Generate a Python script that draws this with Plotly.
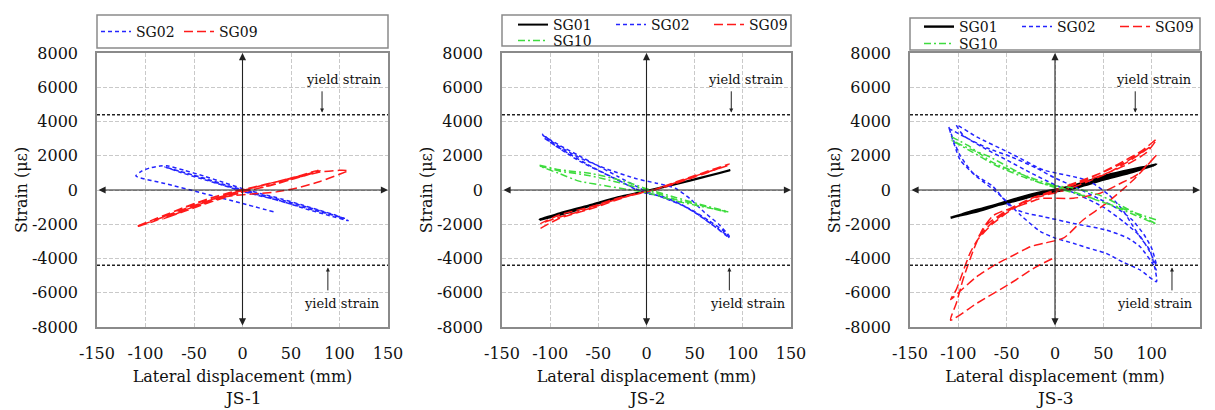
import plotly.graph_objects as go

# ---------------------------------------------------------------- axes / ticks
X_TICKS = [-150, -100, -50, 0, 50, 100, 150]
X_TICK_TEXT = ["-150", "-100", "-50", "0", "50", "100", "150"]
Y_TICKS = [-8000, -6000, -4000, -2000, 0, 2000, 4000, 6000, 8000]
Y_TICK_TEXT = ["-8000", "-6000", "-4000", "-2000", "0", "2000", "4000", "6000", "8000"]
X_RANGE = [-150, 150]
Y_RANGE = [-8000, 8000]
YIELD_STRAIN = 4400
PANEL_NAMES = ["JS-1", "JS-2", "JS-3"]

# ---------------------------------------------------------------- JS-1 gauges
JS1_SG02_X = [32, 0, -40, -80, -110, -104, -95, -85, -78, -60, -40, -20, 0, 20, 40, 60,
              80, 95, 109, 90, 65, 40, 15, 0, -20, -45, -65, -80, -65, -40, -15, 0, 20,
              45, 70, 95, 105, 85, 55, 25, 0, -25, -50, -75]
JS1_SG02_Y = [-1270, -790, -200, 380, 820, 1100, 1300, 1400, 1420, 1150, 820, 450, 80,
              -230, -520, -850, -1200, -1450, -1790, -1500, -1100, -650, -300, -80, 280,
              700, 1050, 1350, 1100, 700, 250, 20, -280, -650, -1050, -1480, -1650,
              -1350, -900, -420, -40, 380, 850, 1250]

JS1_SG09_X = [-108, -95, -75, -55, -30, -10, 10, 35, 60, 80, 100, 109, 100, 80, 55, 35,
              12, -10, -40, -70, -90, -108, -85, -60, -35, -10, 10, 40, 65, 80, 65, 40,
              15, -10, -40, -70, -82, -60, -30, 0, 30, 60, 78, 60, 30, 0, -30, -60, -80]
JS1_SG09_Y = [-2100, -1800, -1350, -900, -420, -100, 150, 480, 780, 1050, 1150, 1130,
              920, 500, 100, -110, -220, -330, -650, -1250, -1800, -2120, -1650, -1100,
              -620, -180, 120, 560, 900, 1120, 850, 450, 80, -250, -800, -1400, -1700,
              -1200, -520, -30, 400, 850, 1160, 780, 280, -120, -650, -1250, -1650]

# ---------------------------------------------------------------- JS-2 gauges
JS2_SG01_X = [-111, -80, -56, -30, -4, 20, 48, 70, 87, 60, 30, 0, -30, -60, -90, -111,
              -80, -45, -10, 25, 55, 87]
JS2_SG01_Y = [-1750, -1300, -880, -450, -100, 200, 590, 900, 1170, 760, 330, -60, -420,
              -900, -1350, -1720, -1250, -700, -180, 280, 700, 1150]

JS2_SG02_X = [-108, -90, -70, -50, -30, -10, 0, 20, 45, 65, 80, 86, 70, 50, 30, 10, -10,
              -30, -55, -80, -100, -108, -95, -70, -40, -10, 10, 30, 45, 60, 75, 86, 75,
              55, 35, 15, 0, -20, -45, -70, -95, -108]
JS2_SG02_Y = [3200, 2600, 2000, 1400, 800, 200, -100, -500, -1100, -1800, -2400, -2800,
              -2100, -1300, -700, -300, 0, 600, 1300, 2100, 2800, 3250, 2700, 1900, 1200,
              650, 400, 100, -500, -1300, -2000, -2700, -2300, -1500, -800, -350, -200,
              300, 1000, 1700, 2600, 3100]

JS2_SG09_X = [-110, -90, -56, -31, -11, 7, 31, 52, 72, 86, 70, 50, 30, 10, -10, -30, -56,
              -90, -110, -90, -60, -30, 0, 30, 55, 86]
JS2_SG09_Y = [-2240, -1650, -1070, -585, -234, 0, 485, 876, 1265, 1520, 1150, 750, 380,
              20, -200, -480, -950, -1450, -1950, -1580, -1100, -520, -100, 420, 900, 1450]

JS2_SG10_X = [-111, -90, -56, -21, 0, 31, 65, 85, 65, 31, 0, -20, -40, -70, -90, -111,
              -90, -60, -30, 0, 30, 60, 85]
JS2_SG10_Y = [1450, 1180, 950, 480, 80, -450, -980, -1270, -1050, -650, -150, 40, 220,
              520, 950, 1400, 1100, 850, 450, 0, -550, -950, -1330]

# ---------------------------------------------------------------- JS-3 gauges
JS3_SG01_X = [-108, -80, -46, -12, 19, 53, 80, 105, 80, 53, 19, -12, -46, -80, -100, -80,
              -46, -12, 19, 53, 80, 103, 75, 45, 15, -15, -50, -85, -106]
JS3_SG01_Y = [-1620, -1200, -600, -100, 200, 780, 1150, 1500, 1050, 650, 100, -200, -700,
              -1150, -1500, -1250, -650, -150, 250, 850, 1200, 1450, 1000, 550, 120, -180,
              -680, -1250, -1580]

JS3_SG02_X = [-110, -90, -70, -46, -20, 0, 20, 45, 65, 80, 92, 100, 105, 98, 88, 72, 50,
              25, 0, -25, -50, -75, -95, -102, -81, -46, -12, 2, 19, 36, 55, 70, 81, 90,
              98, 103, 105, 88, 70, 53, 35, 19, 0, -15, -35, -55, -70, -81, -98, -110,
              -105, -98, -85, -64, -46, -30, -12, 19, 53, 75, 88, 102, 105]
JS3_SG02_Y = [3600, 3000, 2450, 1950, 1300, 700, 200, -500, -1100, -1750, -2600, -3400,
              -4400, -3600, -2700, -1900, -1000, -300, 300, 1000, 1750, 2500, 3200, 3800,
              3100, 2140, 1170, 980, 780, 490, -250, -1170, -2140, -2900, -3500, -4480,
              -5350, -4670, -4200, -3700, -3400, -3115, -2800, -2430, -1500, -400, 300,
              780, 1750, 3700, 2900, 2000, 1000, 195, -975, -1350, -1560, -1950, -2340,
              -2800, -3310, -4380, -4700]

JS3_SG09_X = [0, 25, 50, 75, 95, 105, 90, 65, 40, 15, 0, -25, -50, -70, -80, -65, -45,
              -25, 0, 25, 50, 75, 98, 80, 55, 30, 5, -20, -45, -65, -80, -88, -96, -102,
              -108, -100, -81, -60, -46, -25, -12, 9, 29, 53, 81, 105, 85, 70, 46, 19,
              -15, -29, -50, -64, -75, -85, -95, -102, -108, -81, -46, -20, -2]
JS3_SG09_Y = [0, 400, 900, 1500, 2200, 2950, 2300, 1500, 800, 200, -100, -500, -1200,
              -2000, -2800, -1900, -1100, -500, 0, 500, 1050, 1700, 2500, 1800, 1000, 400,
              -100, -450, -1150, -2000, -2900, -3700, -4900, -5800, -6400, -6000, -5060,
              -4300, -3900, -3300, -3115, -2800, -1750, -780, 585, 2040, 900, 450, -200,
              -480, -500, -780, -1150, -1500, -2300, -3600, -5200, -6600, -7600, -6620,
              -5450, -4500, -3990]

JS3_SG10_X = [-107, -90, -64, -29, 2, 19, 53, 80, 105, 80, 46, 20, -15, -40, -70, -88,
              -107, -85, -60, -30, 0, 30, 60, 105]
JS3_SG10_Y = [3100, 2600, 1600, 800, 200, -100, -780, -1400, -2000, -1250, -300, 100,
              400, 1100, 2000, 2400, 2900, 2200, 1400, 700, 150, -350, -900, -1750]

# ---------------------------------------------------------------- series per panel
PANEL_SERIES = [
    [("SG02", JS1_SG02_X, JS1_SG02_Y), ("SG09", JS1_SG09_X, JS1_SG09_Y)],
    [("SG01", JS2_SG01_X, JS2_SG01_Y), ("SG02", JS2_SG02_X, JS2_SG02_Y),
     ("SG09", JS2_SG09_X, JS2_SG09_Y), ("SG10", JS2_SG10_X, JS2_SG10_Y)],
    [("SG01", JS3_SG01_X, JS3_SG01_Y), ("SG02", JS3_SG02_X, JS3_SG02_Y),
     ("SG09", JS3_SG09_X, JS3_SG09_Y), ("SG10", JS3_SG10_X, JS3_SG10_Y)],
]

STYLE = {
    "SG01": dict(color="#000000", dash="solid", width=2.0),
    "SG02": dict(color="#2424ff", dash="4px,3px", width=1.5),
    "SG09": dict(color="#ff1a1a", dash="9px,4px", width=1.5),
    "SG10": dict(color="#3fdc3f", dash="7px,3px,2px,3px", width=1.5),
}

# ---------------------------------------------------------------- page geometry (px)
W, H = 1215, 410
PLOT_X = [(97, 388), (502, 791), (910, 1200)]
PLOT_TOP, PLOT_BOTTOM = 53, 327
LEGEND_BOX = [(97, 388, 15, 48), (502, 791, 15, 46), (910, 1200, 18, 50)]
# legend rows: (left px, top px) of each row; second row holds SG10
LEGEND_ROWS = [[(96, 16)], [(513, 9), (513, 25)], [(919, 11), (919, 28)]]
LEGEND_ENTRY = [38, 53, 53]
YIELD_ARROW_X = [(82, 88), (88, 86), (83, 121)]
YIELD_TEXT_X = [(105, 103), (103, 105), (102, 103)]

FONT = "DejaVu Serif"
GRID = "#c9c9c9"
FRAME = "#8a8a8a"


def fx(p):
    return p / W


def fy(p):
    return 1 - p / H


fig = go.Figure()
layout = dict(
    width=W, height=H, margin=dict(l=0, r=0, t=0, b=0, autoexpand=False),
    paper_bgcolor="white", plot_bgcolor="white",
    font=dict(family=FONT, size=16, color="#111"),
    annotations=[], shapes=[],
)

legend_count = 0
for i, series in enumerate(PANEL_SERIES):
    n = i + 1
    sfx = "" if n == 1 else str(n)
    xr, yr = "x" + sfx, "y" + sfx

    # one legend object per legend row
    row_ids = []
    for (lx, ly) in LEGEND_ROWS[i]:
        legend_count += 1
        lid = "legend" if legend_count == 1 else "legend%d" % legend_count
        row_ids.append(lid)
        layout[lid] = dict(
            orientation="h", x=fx(lx), y=fy(ly), xanchor="left", yanchor="top",
            bgcolor="rgba(0,0,0,0)", borderwidth=0, itemwidth=30,
            entrywidth=LEGEND_ENTRY[i], entrywidthmode="pixels",
            font=dict(family=FONT, size=14, color="#111"), tracegroupgap=0,
        )

    for k, (name, xs, ys) in enumerate(series):
        st = STYLE[name]
        fig.add_trace(go.Scatter(
            x=xs, y=ys, mode="lines", name=name,
            line=dict(color=st["color"], dash=st["dash"],
                      width=(2.4 if (n == 3 and name == "SG01") else st["width"]),
                      shape="spline", smoothing=0.6),
            xaxis=xr, yaxis=yr, legend=row_ids[0] if k < 3 else row_ids[1],
            hoverinfo="skip",
        ))

    x0, x1 = PLOT_X[i]
    common = dict(showgrid=True, gridcolor=GRID, griddash="4px,2px", gridwidth=1,
                  showline=True, mirror=True, linecolor=FRAME, linewidth=1.5,
                  zeroline=False, ticks="", automargin=False,
                  tickfont=dict(family=FONT, size=16, color="#111"))
    layout["xaxis" + sfx] = dict(
        common, domain=[fx(x0), fx(x1)], range=X_RANGE, anchor=yr,
        tickmode="array", tickvals=X_TICKS, ticktext=X_TICK_TEXT, ticklabelstandoff=11,
        title=dict(text="Lateral displacement (mm)", standoff=9,
                   font=dict(family=FONT, size=16, color="#111")),
    )
    layout["yaxis" + sfx] = dict(
        common, domain=[fy(PLOT_BOTTOM), fy(PLOT_TOP)], range=Y_RANGE, anchor=xr,
        tickmode="array", tickvals=Y_TICKS, ticktext=Y_TICK_TEXT, ticklabelstandoff=14,
        title=dict(text="Strain (με)", standoff=0,
                   font=dict(family=FONT, size=16, color="#111")),
    )

    bx0, bx1, by0, by1 = LEGEND_BOX[i]
    layout["shapes"].append(dict(
        type="rect", xref="paper", yref="paper",
        x0=fx(bx0), x1=fx(bx1), y0=fy(by1), y1=fy(by0),
        line=dict(color=FRAME, width=1.5), fillcolor="rgba(0,0,0,0)",
    ))

    # yield strain levels
    for sgn in (1, -1):
        layout["shapes"].append(dict(
            type="line", xref=xr, yref=yr, x0=X_RANGE[0], x1=X_RANGE[1],
            y0=sgn * YIELD_STRAIN, y1=sgn * YIELD_STRAIN,
            line=dict(color="#222", width=1.5, dash="3px,2px"),
        ))

    # coordinate axes through the origin, arrow-tipped at both ends
    arrow = dict(text="", showarrow=True, xref=xr, yref=yr, axref=xr, ayref=yr,
                 arrowside="end+start", arrowhead=2, startarrowhead=2,
                 arrowsize=1.3, startarrowsize=1.3, arrowwidth=1.1, arrowcolor="#222")
    layout["annotations"].append(dict(arrow, x=0, y=Y_RANGE[1], ax=0, ay=Y_RANGE[0]))
    layout["annotations"].append(dict(arrow, x=X_RANGE[1], y=0, ax=X_RANGE[0], ay=0))

    # yield strain labels and pointers
    (ax_top, ax_bot), (tx_top, tx_bot) = YIELD_ARROW_X[i], YIELD_TEXT_X[i]
    ptr = dict(text="", showarrow=True, xref=xr, yref=yr, axref=xr, ayref=yr,
               arrowhead=2, arrowsize=0.8, arrowwidth=1, arrowcolor="#222")
    layout["annotations"].append(dict(ptr, x=ax_top, y=YIELD_STRAIN + 120, ax=ax_top, ay=5850))
    layout["annotations"].append(dict(ptr, x=ax_bot, y=-YIELD_STRAIN - 120, ax=ax_bot, ay=-5950))
    lab = dict(text="yield strain", showarrow=False, xref=xr, yref=yr,
               font=dict(family=FONT, size=13, color="#111"))
    layout["annotations"].append(dict(lab, x=tx_top, y=6450))
    layout["annotations"].append(dict(lab, x=tx_bot, y=-6600))

    # panel caption, resting on the bottom edge of the page
    layout["annotations"].append(dict(
        text=PANEL_NAMES[i], showarrow=False, xref="paper", yref="paper",
        x=fx((x0 + x1) / 2), y=0, xanchor="center", yanchor="bottom",
        font=dict(family=FONT, size=17, color="#111"),
    ))

fig.update_layout(**layout)
fig.write_html("out.html")
